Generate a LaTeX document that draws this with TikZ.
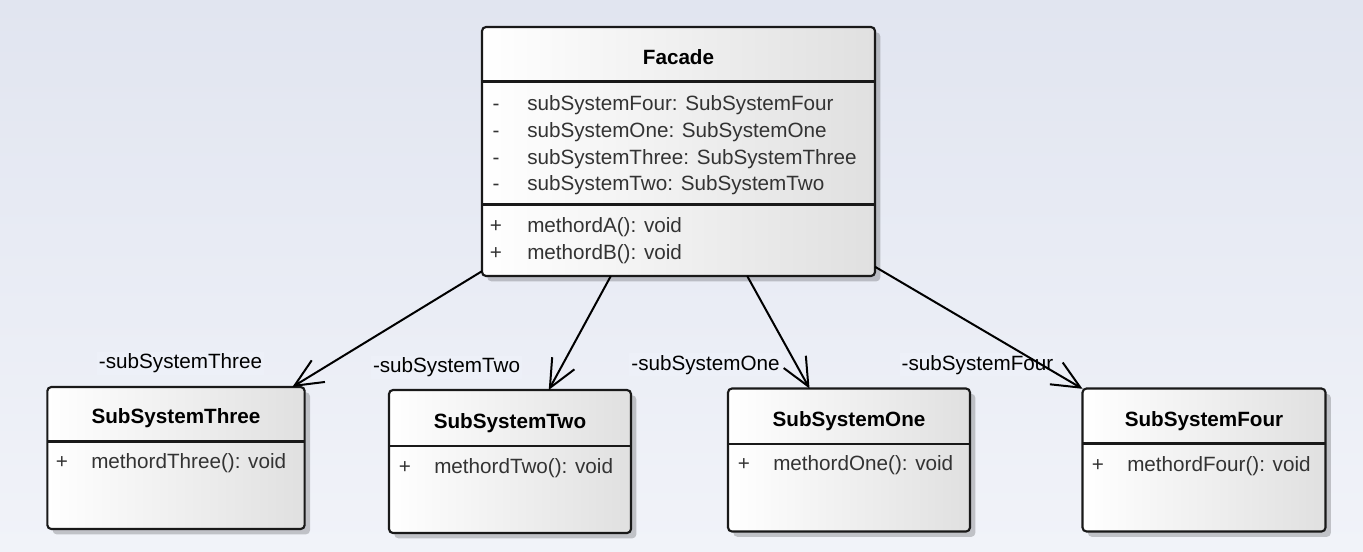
\documentclass[tikz,border=0pt]{standalone}
\usepackage{fontspec}
\setmainfont{Liberation Sans}
\usetikzlibrary{arrows.meta,shadows}
\definecolor{bgtop}{RGB}{225,229,240}
\definecolor{bgbot}{RGB}{241,243,249}
\definecolor{boxright}{RGB}{224,224,224}
\definecolor{txt}{RGB}{51,51,51}
\definecolor{lblbg}{RGB}{237,240,248}
\newcommand{\umlfont}{\fontsize{15.5pt}{18pt}\selectfont}
\tikzset{
  umlbox/.style={draw=black!90, line width=1.6pt, rounded corners=3pt,
    left color=white, right color=boxright, inner sep=0pt, outer sep=0pt,
    drop shadow={shadow xshift=4pt, shadow yshift=-4pt, fill=black, opacity=0.2}},
  classname/.style={font=\umlfont\bfseries, anchor=base, inner sep=0pt},
  member/.style={font=\umlfont, text=txt, anchor=base west, inner sep=0pt},
  vis/.style={font=\umlfont, text=txt, anchor=base, inner sep=0pt},
  role/.style={font=\umlfont, anchor=base, fill=lblbg, inner sep=1.5pt},
  assoc/.style={line width=1.5pt, -{Straight Barb[length=21pt,width=19pt,line width=1.5pt]}},
  compartment/.style={line width=1.6pt, draw=black!90}
}
\begin{document}
\begin{tikzpicture}[x=0.75pt,y=-0.75pt]
\useasboundingbox (0,0) rectangle (1363,551);
\shade[top color=bgtop, bottom color=bgbot] (0,0) rectangle (1363,551);

% Boxes
\node[umlbox, minimum width=294.75pt, minimum height=186.75pt] (facade) at (678.5,151.5) {};
\node[umlbox, minimum width=193pt, minimum height=106.5pt] (three) at (176,458) {};
\node[umlbox, minimum width=181.5pt, minimum height=107.25pt] (two) at (510,461.5) {};
\node[umlbox, minimum width=181.5pt, minimum height=107.25pt] (one) at (849,460) {};
\node[umlbox, minimum width=182.25pt, minimum height=107.25pt] (four) at (1204,460) {};

% Compartment lines
\draw[compartment] (facade.west |- 0,81.5) -- (facade.east |- 0,81.5);
\draw[compartment] (facade.west |- 0,204.5) -- (facade.east |- 0,204.5);
\draw[compartment] (three.west |- 0,441.5) -- (three.east |- 0,441.5);
\draw[compartment] (two.west |- 0,446) -- (two.east |- 0,446);
\draw[compartment] (one.west |- 0,444) -- (one.east |- 0,444);
\draw[compartment] (four.west |- 0,443.5) -- (four.east |- 0,443.5);

% Facade texts
\node[classname] (facadeName) at (678.5,64) {Facade};
\node[vis] (fv1) at (496,110) {-};
\node[member] (fa1) at (527,110) {subSystemFour: SubSystemFour};
\node[vis] (fv2) at (496,137) {-};
\node[member] (fa2) at (527,137) {subSystemOne: SubSystemOne};
\node[vis] (fv3) at (496,164) {-};
\node[member] (fa3) at (527,164) {subSystemThree: SubSystemThree};
\node[vis] (fv4) at (496,190.5) {-};
\node[member] (fa4) at (527,190.5) {subSystemTwo: SubSystemTwo};
\node[vis] (fv5) at (496,232.5) {+};
\node[member] (fm1) at (527,232.5) {methordA(): void};
\node[vis] (fv6) at (496,259) {+};
\node[member] (fm2) at (527,259) {methordB(): void};

% SubSystemThree
\node[classname] (threeName) at (176,423.5) {SubSystemThree};
\node[vis] (tv1) at (62,468.5) {+};
\node[member] (tm1) at (91,468.5) {methordThree(): void};

% SubSystemTwo
\node[classname] (twoName) at (510,428) {SubSystemTwo};
\node[vis] (wv1) at (405,473) {+};
\node[member] (wm1) at (434,473) {methordTwo(): void};

% SubSystemOne
\node[classname] (oneName) at (849,426) {SubSystemOne};
\node[vis] (ov1) at (744,470.5) {+};
\node[member] (om1) at (773,470.5) {methordOne(): void};

% SubSystemFour
\node[classname] (fourName) at (1204,426) {SubSystemFour};
\node[vis] (rv1) at (1098,471) {+};
\node[member] (rm1) at (1127,471) {methordFour(): void};

% Role labels
\node[role] (r3) at (180.5,368.5) {-subSystemThree};
\node[role] (r2) at (446.5,372.5) {-subSystemTwo};
\node[role] (r1) at (705.5,370) {-subSystemOne};
\node[role] (r4) at (977.5,370) {-subSystemFour};

% Associations
\draw[assoc] (facade) -- (three);
\draw[assoc] (facade) -- (two);
\draw[assoc] (facade) -- (one);
\draw[assoc] (facade) -- (four);
\end{tikzpicture}
\end{document}
